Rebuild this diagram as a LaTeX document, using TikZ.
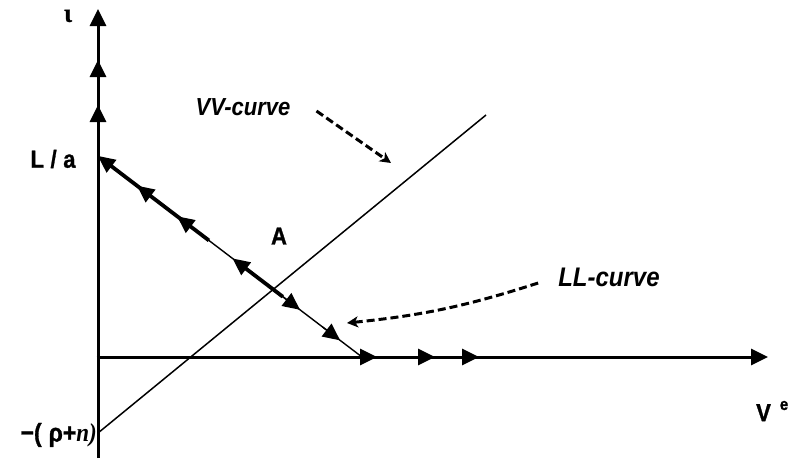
\documentclass[tikz,border=0pt]{standalone}
\usepackage{fontspec}
\setmainfont{Liberation Sans}[BoldFeatures={FakeBold=1.2}]
\newfontfamily\seriffont{Liberation Serif}[BoldFeatures={FakeBold=1.2}]
\usetikzlibrary{arrows.meta,calc}
\newcommand{\tallbox}[1]{\scalebox{1}[1.12]{#1}}
\begin{document}
\begin{tikzpicture}[x=1pt,y=-1pt,
  axis/.style={line width=3pt},
  big/.style={-{Triangle[length=17pt,width=16pt]}},
  thickl/.style={line width=3.8pt},
  thinl/.style={line width=1.4pt},
  dasharrow/.style={line width=3pt,dash pattern=on 8pt off 4pt,-{Stealth[length=11pt,width=11pt,inset=3pt]}},
  lbl/.style={font=\bfseries\fontsize{22}{22}\selectfont,inner sep=0pt},
  curvelbl/.style={font=\bfseries\itshape\fontsize{22}{22}\selectfont,inner sep=0pt}]
\useasboundingbox (0,0) rectangle (794,461);
\coordinate (top) at (98,9);
\coordinate (bot) at (98,458);
\coordinate (O) at (96.5,357);
\coordinate (xend) at (768,357);
\coordinate (La) at (98,156);
\coordinate (Le) at (362,357);
\coordinate (Vb) at (98,433);
\coordinate (Vt) at (486,115);
% axes
\draw[axis] (bot) -- (La);
\draw[axis,big] (La) -- (top);
\draw[axis,big] (98,80) -- (98,60);
\draw[axis,big] (98,125) -- (98,105);
\draw[axis,big] (O) -- (xend);
\draw[axis,big] (350,357) -- (377,357);
\draw[axis,big] (410,357) -- (435,357);
\draw[axis,big] (455,357) -- (479,357);
% VV line
\draw[line width=1.5pt] (Vb) -- (Vt);
% LL line
\draw[thinl] (La) -- (Le);
\draw[thickl] ($(La)!0.04!(Le)$) -- ($(La)!0.42!(Le)$);
\draw[thickl] ($(La)!0.56!(Le)$) -- ($(La)!0.70!(Le)$);
\draw[thinl,big] ($(La)!0.06!(Le)$) -- (La);
\draw[thinl,big] ($(La)!0.21!(Le)$) -- ($(La)!0.148!(Le)$);
\draw[thinl,big] ($(La)!0.36!(Le)$) -- ($(La)!0.30!(Le)$);
\draw[thinl,big] ($(La)!0.57!(Le)$) -- ($(La)!0.51!(Le)$);
\draw[thinl,big] ($(La)!0.70!(Le)$) -- ($(La)!0.765!(Le)$);
\draw[thinl,big] ($(La)!0.85!(Le)$) -- ($(La)!0.917!(Le)$);
% labels
\node[font=\seriffont\bfseries\fontsize{26}{26}\selectfont,inner sep=0pt] (iota) at (68,16) {ι};
\node[lbl] (lalbl) at (53,159) {\tallbox{L\hspace{0.3em}/\hspace{0.3em}a}};
\node[lbl] (alabel) at (279,236) {\tallbox{A}};
\node[curvelbl] (vvl) at (243,107) {\tallbox{VV-curve}};
\node[curvelbl,font=\bfseries\itshape\fontsize{24}{24}\selectfont] (lll) at (609,277) {\tallbox{LL-curve}};
\node[lbl,anchor=west] (ve) at (756,411) {\tallbox{V\hspace{9pt}\raisebox{10pt}{\fontsize{15}{15}\selectfont e}}};
\node[lbl,anchor=east,font=\bfseries\fontsize{23}{23}\selectfont] (rho) at (97,435) {\tallbox{−(\hspace{7pt}ρ+{\seriffont\itshape n)}}};
% dashed pointers
\coordinate (vvs) at ($(vvl.east)+(26,4)$);
\coordinate (vvt) at (391,163);
\coordinate (lls) at ($(lll.west)+(-20,6)$);
\coordinate (llt) at (347,323);
\draw[dasharrow] (vvs) -- (vvt);
\draw[dasharrow] (lls) to[bend left=6] (llt);
\end{tikzpicture}
\end{document}
